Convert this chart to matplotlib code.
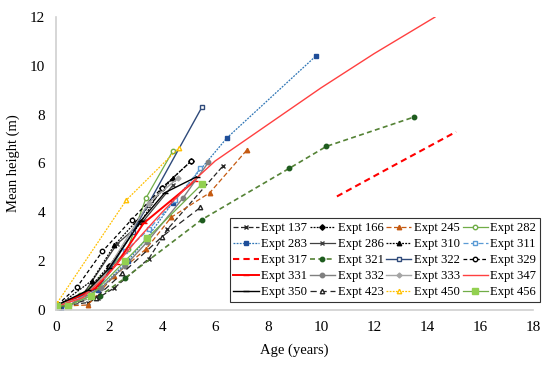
import matplotlib
matplotlib.use("Agg")
import matplotlib.pyplot as plt

plt.rcParams["font.family"] = ["Liberation Serif", "DejaVu Serif"]

x137 = [0.1, 1.2, 1.6, 2.2, 3.5, 4.2, 6.3]
y137 = [0.15, 0.3, 0.5, 0.9, 2.1, 3.3, 5.9]
x166 = [0.05, 1.0, 2.0, 3.2, 4.0, 5.1]
y166 = [0.15, 0.6, 1.8, 3.6, 5.0, 6.1]
x245 = [0.1, 1.2, 2.2, 3.4, 4.35, 5.8, 7.2]
y245 = [0.15, 0.2, 1.4, 2.5, 3.8, 4.8, 6.55]
x282 = [0.05, 0.9, 1.7, 2.7, 3.4, 4.4]
y282 = [0.2, 0.6, 1.3, 2.5, 4.6, 6.5]
x283 = [0.2, 1.6, 2.7, 3.4, 4.4, 6.45, 9.8]
y283 = [0.05, 0.8, 2.0, 2.9, 4.4, 7.05, 10.4]
x286 = [0.05, 1.0, 2.3, 3.3, 4.4]
y286 = [0.2, 0.6, 2.7, 3.65, 5.1]
x310 = [0.05, 1.35, 2.2, 3.0, 4.4]
y310 = [0.15, 1.2, 2.65, 3.6, 5.4]
x311 = [0.05, 1.6, 2.6, 3.5, 4.5, 5.45]
y311 = [0.1, 0.9, 2.4, 3.3, 4.5, 5.8]
x317 = [10.6, 12.8, 15.1]
y317 = [4.65, 5.95, 7.3]
x321 = [0.05, 1.65, 2.6, 5.5, 8.8, 10.2, 13.5]
y321 = [0.15, 0.57, 1.3, 3.7, 5.8, 6.7, 7.9]
x322 = [0.05, 1.6, 2.9, 5.5]
y322 = [0.15, 0.9, 3.2, 8.3]
x329 = [0.05, 0.8, 1.75, 2.85, 4.0, 5.1]
y329 = [0.2, 0.95, 2.4, 3.7, 5.0, 6.1]
x331 = [0.05, 1.5, 2.3, 3.3, 5.25]
y331 = [0.15, 0.9, 1.9, 3.55, 5.3]
x332 = [0.05, 0.5, 1.7, 2.6, 3.45, 4.8, 5.75]
y332 = [0.15, 0.2, 0.9, 1.8, 2.8, 4.6, 6.05]
x333 = [0.05, 1.0, 1.8, 3.5, 4.6]
y333 = [0.2, 0.5, 1.4, 4.4, 5.4]
x347 = [0.05, 1.0, 2.0, 3.0, 4.0, 5.0, 6.0, 8.0, 10.0, 12.0, 14.3]
y347 = [0.15, 0.5, 1.5, 2.8, 4.0, 5.1, 6.1, 7.6, 9.1, 10.5, 12.0]
x350 = [0.05, 1.2, 2.0, 3.2, 4.1, 5.3]
y350 = [0.2, 0.8, 1.7, 3.65, 4.8, 5.45]
x423 = [0.1, 1.5, 2.5, 4.0, 5.45]
y423 = [0.1, 0.5, 1.5, 3.0, 4.2]
x450 = [0.05, 2.65, 4.65]
y450 = [0.3, 4.5, 6.65]
x456 = [0.05, 0.45, 1.3, 2.6, 3.45, 5.5]
y456 = [0.15, 0.17, 0.57, 2.0, 2.95, 5.15]

fig = plt.figure(figsize=(5.5, 3.72), dpi=100)
ax = fig.add_axes([0.102, 0.167, 0.867, 0.787])

ms = 3.2
ax.plot(x137, y137, ls=(0, (4, 2)), color="#262626", lw=0.9, marker="x", ms=ms, label="Expt 137")
ax.plot(x166, y166, ls=(0, (1.5, 1)), color="black", lw=0.9, marker="D", ms=2.8, label="Expt 166")
ax.plot(x245, y245, ls=(0, (4, 2)), color="#c55a11", lw=0.9, marker="^", ms=ms, label="Expt 245")
ax.plot(x282, y282, ls="-", color="#70ad47", lw=0.9, marker="o", mfc="white", ms=ms, label="Expt 282")
ax.plot(x283, y283, ls=(0, (1.5, 1)), color="#2e75b6", lw=0.9, marker="s", mfc="#1f4e99", mec="#1f4e99", ms=ms, label="Expt 283")
ax.plot(x286, y286, ls="-", color="#404040", lw=0.9, marker="x", ms=ms, label="Expt 286")
ax.plot(x310, y310, ls=(0, (1.5, 1)), color="black", lw=0.9, marker="^", ms=ms, label="Expt 310")
ax.plot(x311, y311, ls=(0, (4, 2)), color="#5b9bd5", lw=0.9, marker="s", mfc="white", ms=ms, label="Expt 311")
ax.plot(x317, y317, ls=(0, (3, 2)), color="#ff0000", lw=1.5, label="Expt 317")
ax.plot(x321, y321, ls=(0, (3, 2)), color="#548235", lw=1.2, marker="o", mfc="#1e5c1e", mec="#1e5c1e", ms=ms, label="Expt 321")
ax.plot(x322, y322, ls="-", color="#2f4a7a", lw=1.0, marker="s", mfc="white", ms=ms, label="Expt 322")
ax.plot(x329, y329, ls=(0, (3, 2)), color="black", lw=0.9, marker="o", mfc="white", ms=ms, label="Expt 329")
ax.plot(x331, y331, ls="-", color="#ff0000", lw=1.4, marker="_", ms=5, label="Expt 331")
ax.plot(x332, y332, ls="-", color="#7f7f7f", lw=1.0, marker="o", ms=ms, label="Expt 332")
ax.plot(x333, y333, ls="-", color="#a5a5a5", lw=1.0, marker="D", ms=2.5, label="Expt 333")
ax.plot(x347, y347, ls="-", color="#ff4040", lw=1.0, label="Expt 347")
ax.plot(x350, y350, ls="-", color="black", lw=1.0, marker="_", ms=5, label="Expt 350")
ax.plot(x423, y423, ls=(0, (5, 3)), color="#262626", lw=0.9, marker="^", mfc="white", ms=ms, label="Expt 423")
ax.plot(x450, y450, ls=(0, (1.5, 1)), color="#ffc000", lw=0.9, marker="^", mfc="white", ms=ms, label="Expt 450")
ax.plot(x456, y456, ls="-", color="#70ad47", lw=0.9, marker="s", mfc="#92d050", mec="#92d050", ms=3.8, label="Expt 456")

ax.set_xlim(0, 18)
ax.set_ylim(0, 12)
ax.set_xticks(range(0, 19, 2))
ax.set_yticks(range(0, 13, 2))
ax.tick_params(length=0, labelsize=11, pad=8)
for side in ("top", "right"):
    ax.spines[side].set_visible(False)
for side in ("left", "bottom"):
    ax.spines[side].set_color("#d0d0d0")
    ax.spines[side].set_linewidth(1.2)

ax.set_xlabel("Age (years)", fontsize=10.5, labelpad=7)
ax.set_ylabel("Mean height (m)", fontsize=10.5, labelpad=7)

# legend fills row by row in the reference, matplotlib fills by column
handles, labels = ax.get_legend_handles_labels()
ncol, nrow = 4, 5
order = [r * ncol + c for c in range(ncol) for r in range(nrow)]
leg = ax.legend([handles[i] for i in order], [labels[i] for i in order],
                ncol=ncol, loc="lower right", bbox_to_anchor=(1.015, 0.027),
                fontsize=9.1, frameon=True, fancybox=False,
                handlelength=2.0, handletextpad=0.2, columnspacing=0.2,
                labelspacing=0.32, borderpad=0.3, borderaxespad=0)
leg.get_frame().set_edgecolor("black")
leg.get_frame().set_linewidth(0.8)

plt.savefig("out.png", dpi=100)
